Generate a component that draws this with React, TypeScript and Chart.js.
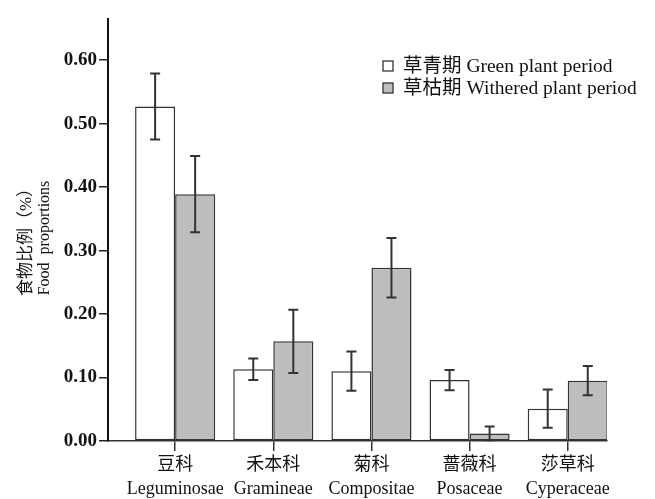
import React, { useEffect, useRef } from 'react';
import { Chart, registerables } from 'chart.js';

Chart.register(...registerables);

const categoriesZh = ['豆科', '禾本科', '菊科', '蔷薇科', '莎草科'];
const categoriesEn = ['Leguminosae', 'Gramineae', 'Compositae', 'Posaceae', 'Cyperaceae'];
const greenValues = [0.527, 0.113, 0.11, 0.096, 0.051];
const greenErrors = [0.052, 0.017, 0.031, 0.016, 0.03];
const witheredValues = [0.389, 0.157, 0.273, 0.012, 0.095];
const witheredErrors = [0.06, 0.05, 0.047, 0.011, 0.023];
const seriesLabels = ['草青期 Green plant period', '草枯期 Withered plant period'];
const yTickValues = [0, 0.1, 0.2, 0.3, 0.4, 0.5, 0.6];
const yTitleLines = ['食物比例（%）', 'Food  proportions'];

const FONT = "'Liberation Serif', 'Noto Sans CJK SC', serif";
const errorSets = [greenErrors, witheredErrors];
const fills = ['#ffffff', '#bdbdbd'];

const errorBarPlugin = {
  id: 'errorBars',
  afterDatasetsDraw(chart: any) {
    const ctx = chart.ctx;
    const y = chart.scales.y;
    ctx.save();
    ctx.strokeStyle = '#333';
    ctx.lineWidth = 2;
    chart.data.datasets.forEach((ds: any, di: number) => {
      const meta = chart.getDatasetMeta(di);
      meta.data.forEach((bar: any, i: number) => {
        const v = ds.data[i].y;
        const e = errorSets[di][i];
        const yt = y.getPixelForValue(v + e);
        const yb = y.getPixelForValue(v - e);
        const x = bar.x;
        ctx.beginPath();
        ctx.moveTo(x, yt);
        ctx.lineTo(x, yb);
        ctx.moveTo(x - 5, yt);
        ctx.lineTo(x + 5, yt);
        ctx.moveTo(x - 5, yb);
        ctx.lineTo(x + 5, yb);
        ctx.stroke();
      });
    });
    ctx.restore();
  },
};

const decorPlugin = {
  id: 'decor',
  afterDraw(chart: any) {
    const ctx = chart.ctx;
    ctx.save();
    // legend
    ctx.font = `19.5px ${FONT}`;
    ctx.textBaseline = 'middle';
    ctx.textAlign = 'left';
    seriesLabels.forEach((lab, i) => {
      const cy = 66 + i * 22;
      ctx.fillStyle = fills[i];
      ctx.fillRect(383, cy - 5, 10, 10);
      ctx.strokeStyle = '#222';
      ctx.lineWidth = 1.2;
      ctx.strokeRect(383, cy - 5, 10, 10);
      ctx.fillStyle = '#111';
      ctx.fillText(lab, 403, cy + 1);
    });
    // y title
    ctx.translate(0, 238);
    ctx.rotate(-Math.PI / 2);
    ctx.textAlign = 'center';
    ctx.fillStyle = '#111';
    ctx.font = `17px ${FONT}`;
    ctx.fillText(yTitleLines[0], 0, 27);
    ctx.font = `16px ${FONT}`;
    ctx.fillText(yTitleLines[1], 0, 45);
    ctx.restore();
  },
};

export default function App() {
  const ref = useRef<HTMLCanvasElement>(null);
  useEffect(() => {
    if (!ref.current) return;
    const chart = new Chart(ref.current, {
      type: 'bar',
      data: {
        datasets: [
          {
            label: seriesLabels[0],
            data: greenValues.map((v, i) => ({ x: i, y: v })),
            backgroundColor: fills[0],
            borderColor: '#333',
            borderWidth: 1.5,
            borderSkipped: false,
            barPercentage: 1,
            categoryPercentage: 0.816,
          },
          {
            label: seriesLabels[1],
            data: witheredValues.map((v, i) => ({ x: i, y: v })),
            backgroundColor: fills[1],
            borderColor: '#333',
            borderWidth: 1.5,
            borderSkipped: false,
            barPercentage: 1,
            categoryPercentage: 0.816,
          },
        ],
      },
      options: {
        animation: false,
        responsive: false,
        maintainAspectRatio: false,
        layout: { padding: { left: 0, right: 48, top: 19, bottom: 0 } },
        plugins: { legend: { display: false }, tooltip: { enabled: false } },
        scales: {
          x: {
            type: 'linear',
            offset: false,
            min: -0.684,
            max: 4.4,
            afterBuildTicks: (scale: any) => {
              scale.ticks = categoriesZh.map((_, i) => ({ value: i }));
            },
            afterFit: (scale: any) => {
              scale.height = 58;
            },
            grid: {
              display: true,
              offset: false,
              drawOnChartArea: false,
              drawTicks: true,
              tickLength: 10,
              color: '#333',
              lineWidth: 1.5,
            },
            border: { display: true, color: '#333', width: 1.5 },
            ticks: {
              autoSkip: false,
              maxRotation: 0,
              padding: 3,
              color: '#111',
              font: { family: FONT, size: 18, lineHeight: 1.3 },
              callback: (v: any) => [categoriesZh[v], categoriesEn[v]],
            },
          },
          y: {
            type: 'linear',
            min: 0,
            max: 0.665,
            afterBuildTicks: (scale: any) => {
              scale.ticks = yTickValues.map((v) => ({ value: v }));
            },
            afterFit: (scale: any) => {
              scale.width = 108;
            },
            grid: {
              display: true,
              drawOnChartArea: false,
              drawTicks: true,
              tickLength: 9,
              color: '#222',
              lineWidth: 1.5,
            },
            border: { display: true, color: '#111', width: 2 },
            ticks: {
              padding: 2,
              color: '#111',
              font: { family: FONT, size: 19, weight: 'bold' },
              callback: (v: any) => Number(v).toFixed(2),
            },
          },
        },
      },
      plugins: [errorBarPlugin, decorPlugin],
    } as any);
    return () => chart.destroy();
  }, []);
  return (
    <div style={{ position: 'absolute', left: 0, top: 0, width: 655, height: 499, background: '#fff' }}>
      <canvas ref={ref} width={655} height={499} style={{ width: 655, height: 499 }} />
    </div>
  );
}
